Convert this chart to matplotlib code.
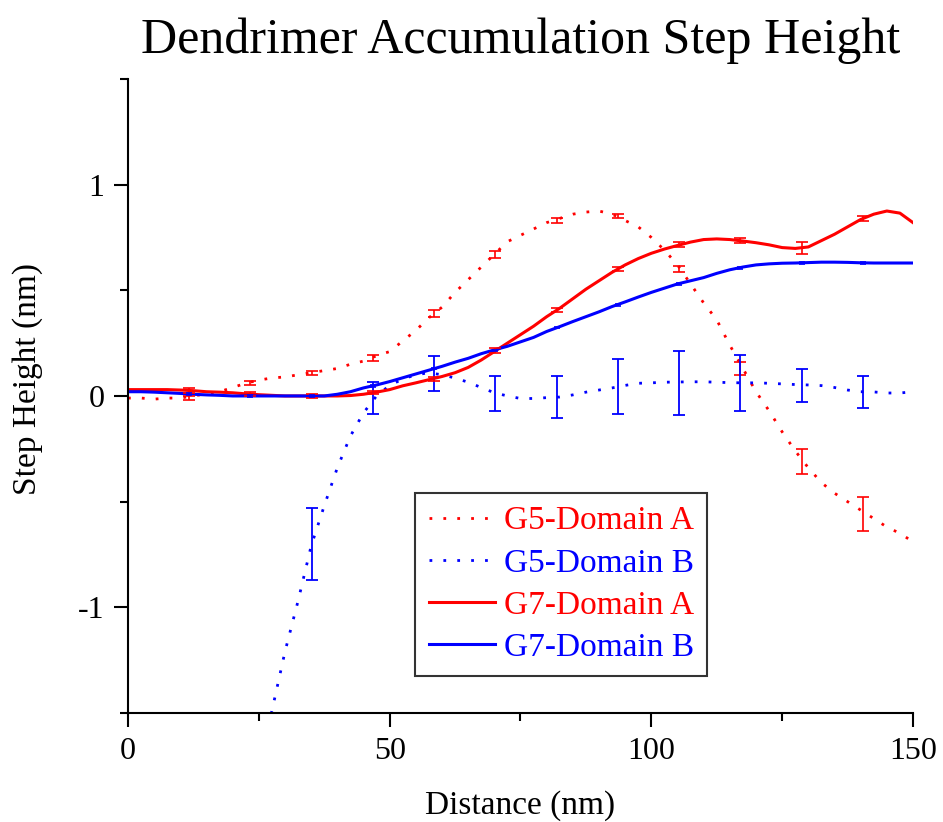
import matplotlib
matplotlib.use("Agg")
import matplotlib.pyplot as plt
from matplotlib.ticker import MultipleLocator

plt.rcParams['font.family'] = ['Liberation Serif', 'DejaVu Serif']
plt.rcParams['axes.unicode_minus'] = False

# step height profiles sampled every 2.5 nm
dist = [i * 2.5 for i in range(61)]
dist_g5b = [25 + i * 2.5 for i in range(51)]

g5_a = [-0.01, -0.01, -0.015, -0.01, -0.01, 0.0, 0.01, 0.02, 0.04, 0.06,
        0.075, 0.085, 0.09, 0.10, 0.11, 0.12, 0.13, 0.15, 0.165, 0.19,
        0.21, 0.26, 0.31, 0.37, 0.42, 0.49, 0.55, 0.61, 0.67, 0.73,
        0.76, 0.79, 0.82, 0.84, 0.86, 0.87, 0.875, 0.86, 0.83, 0.80,
        0.75, 0.69, 0.62, 0.53, 0.44, 0.36, 0.24, 0.13, 0.02, -0.07,
        -0.17, -0.26, -0.34, -0.41, -0.46, -0.50, -0.54, -0.58, -0.62, -0.65,
        -0.69]

g5_b = [-1.76, -1.49, -1.21, -0.97, -0.71, -0.52, -0.34, -0.19, -0.08, 0.0,
        0.05, 0.08, 0.10, 0.11, 0.10, 0.085, 0.065, 0.04, 0.015, 0.0,
        -0.012, -0.012, -0.008, -0.005, 0.005, 0.018, 0.028, 0.038, 0.05, 0.06,
        0.062, 0.065, 0.066, 0.067, 0.067, 0.065, 0.063, 0.062, 0.062, 0.06,
        0.057, 0.054, 0.052, 0.049, 0.04, 0.028, 0.02, 0.019, 0.014, 0.014,
        0.02]

g7_a = [0.03, 0.03, 0.03, 0.03, 0.028, 0.025, 0.02, 0.018, 0.015, 0.01,
        0.006, 0.003, 0.0, 0.0, 0.0, 0.0, 0.0, 0.002, 0.008, 0.018,
        0.03, 0.048, 0.062, 0.077, 0.092, 0.11, 0.135, 0.17, 0.21, 0.25,
        0.29, 0.33, 0.375, 0.415, 0.46, 0.505, 0.545, 0.585, 0.62, 0.65,
        0.675, 0.695, 0.712, 0.728, 0.74, 0.743, 0.74, 0.733, 0.725, 0.715,
        0.702, 0.698, 0.705, 0.735, 0.765, 0.80, 0.835, 0.86, 0.875, 0.865,
        0.82]

g7_b = [0.02, 0.02, 0.018, 0.015, 0.012, 0.008, 0.005, 0.003, 0.0, 0.0,
        0.0, 0.0, 0.0, 0.0, 0.0, 0.0, 0.008, 0.02, 0.038, 0.052,
        0.068, 0.086, 0.104, 0.122, 0.14, 0.16, 0.178, 0.2, 0.218, 0.235,
        0.256, 0.277, 0.305, 0.328, 0.352, 0.375, 0.398, 0.423, 0.445, 0.468,
        0.49, 0.51, 0.53, 0.545, 0.56, 0.58, 0.597, 0.61, 0.62, 0.625,
        0.628, 0.629, 0.631, 0.633, 0.633, 0.632, 0.63, 0.629, 0.629, 0.629,
        0.629]

# measured points with error bars
err_x = [11.7, 23.4, 35.1, 46.8, 58.5, 70.2, 81.9, 93.6, 105.3, 117.0, 128.7, 140.4]

g5_a_pts = [-0.01, 0.06, 0.11, 0.18, 0.39, 0.67, 0.83, 0.85, 0.60, 0.13, -0.31, -0.56]
g5_a_err = [0.01, 0.01, 0.01, 0.015, 0.015, 0.015, 0.01, 0.01, 0.015, 0.03, 0.06, 0.08]

g5_b_x = err_x[2:]
g5_b_pts = [-0.70, -0.01, 0.105, 0.01, -0.005, 0.043, 0.062, 0.062, 0.05, 0.019]
g5_b_err = [0.17, 0.077, 0.083, 0.083, 0.10, 0.13, 0.152, 0.133, 0.079, 0.076]

g7_a_pts = [0.025, 0.01, 0.0, 0.015, 0.08, 0.215, 0.405, 0.60, 0.715, 0.735, 0.70, 0.84]
g7_a_err = [0.012, 0.008, 0.008, 0.008, 0.01, 0.01, 0.01, 0.01, 0.012, 0.012, 0.03, 0.012]

g7_b_pts = [0.01, 0.0, 0.0, 0.048, 0.13, 0.215, 0.324, 0.43, 0.53, 0.605, 0.629, 0.63]
g7_b_err = [0.004] * 12

RED = '#ff0000'
BLUE = '#0000ff'
dots = (0, (1, 4))

fig = plt.figure(figsize=(9.43, 8.22), dpi=100)
ax = fig.add_axes([0.1357, 0.1326, 0.8325, 0.7714])

l1, = ax.plot(dist, g5_a, color=RED, lw=2, linestyle=dots, label='G5-Domain A')
l2, = ax.plot(dist_g5b, g5_b, color=BLUE, lw=2, linestyle=dots, label='G5-Domain B')
l3, = ax.plot(dist, g7_a, color=RED, lw=2.2, label='G7-Domain A')
l4, = ax.plot(dist, g7_b, color=BLUE, lw=2.2, label='G7-Domain B')

ax.errorbar(err_x, g5_a_pts, yerr=g5_a_err, fmt='none', ecolor=RED, elinewidth=1.2, capsize=4.5, capthick=1.2)
ax.errorbar(g5_b_x, g5_b_pts, yerr=g5_b_err, fmt='none', ecolor=BLUE, elinewidth=1.3, capsize=4.5, capthick=1.3)
ax.errorbar(err_x, g7_a_pts, yerr=g7_a_err, fmt='none', ecolor=RED, elinewidth=1.2, capsize=4.5, capthick=1.2)
ax.errorbar(err_x, g7_b_pts, yerr=g7_b_err, fmt='none', ecolor=BLUE, elinewidth=1.2, capsize=2, capthick=1.2)

ax.set_xlim(0, 150)
ax.set_ylim(-1.5, 1.5)
ax.xaxis.set_major_locator(MultipleLocator(50))
ax.xaxis.set_minor_locator(MultipleLocator(25))
ax.yaxis.set_major_locator(MultipleLocator(1))
ax.yaxis.set_minor_locator(MultipleLocator(0.5))
ax.tick_params(which='major', direction='out', length=10, width=1.5, labelsize=23, pad=7)
ax.tick_params(which='minor', direction='out', length=6, width=1.5)

for side in ('top', 'right'):
    ax.spines[side].set_visible(False)
for side in ('left', 'bottom'):
    ax.spines[side].set_linewidth(1.5)

ax.set_xlabel('Distance (nm)', fontsize=24, labelpad=18)
ax.set_ylabel('Step Height (nm)', fontsize=24)
ax.yaxis.set_label_coords(-0.108, 0.526)
ax.set_title('Dendrimer Accumulation Step Height', fontsize=36, pad=19)

leg = ax.legend(handles=[l1, l2, l3, l4], loc='lower left', bbox_to_anchor=(0.366, 0.058),
                borderaxespad=0, fontsize=24, frameon=True, fancybox=False, edgecolor='black',
                handlelength=2.0, handletextpad=0.25, labelspacing=0.35, borderpad=0.4)
leg.get_frame().set_linewidth(1.5)
for text, line in zip(leg.get_texts(), leg.get_lines()):
    text.set_color(line.get_color())

fig.savefig('out.png', dpi=100)
